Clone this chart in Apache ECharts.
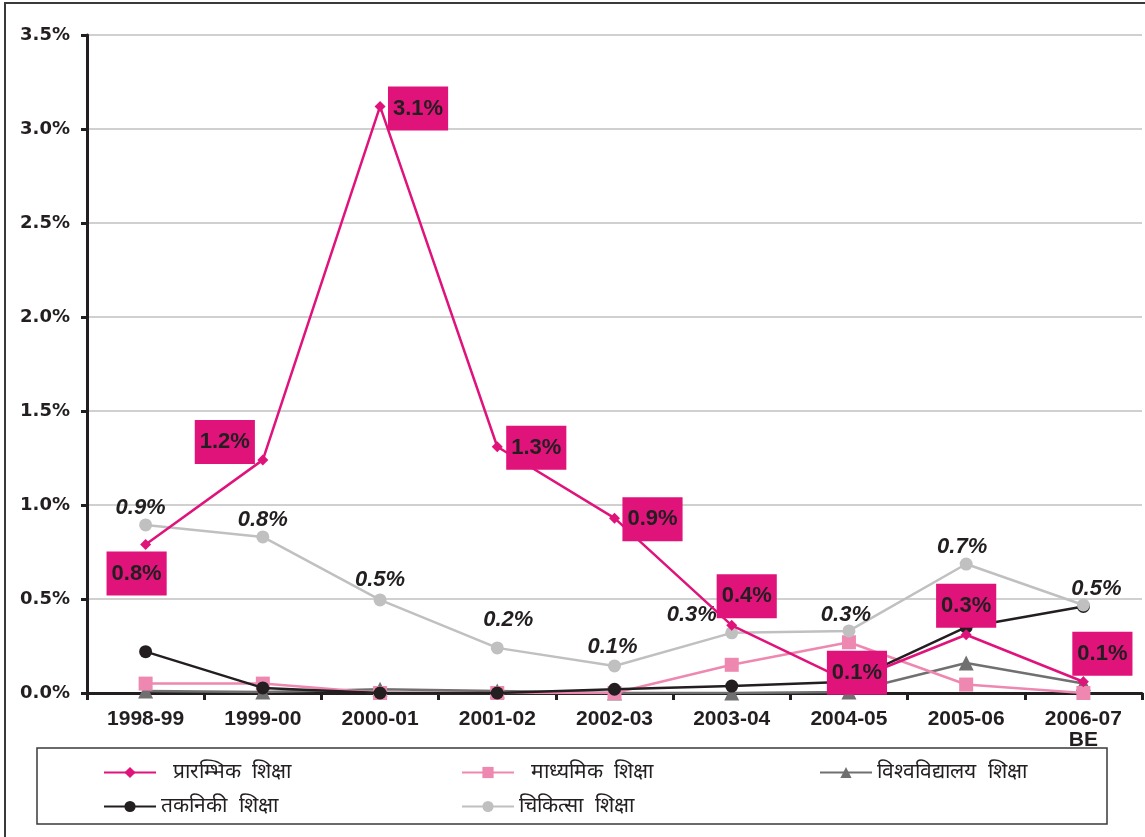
<!DOCTYPE html>
<html>
<head>
<meta charset="utf-8">
<script src="https://cdn.jsdelivr.net/npm/echarts@6/dist/echarts.min.js"></script>
<style>
  html, body { margin: 0; padding: 0; background: #fff; }
  #chart { width: 1145px; height: 837px; }
</style>
</head>
<body>
<div id="chart"></div>
<script>
// fiscal years
const categories = ['1998-99', '1999-00', '2000-01', '2001-02', '2002-03', '2003-04', '2004-05', '2005-06', '2006-07\nBE']

// shares in percent
const primaryEdu = [0.79, 1.24, 3.12, 1.31, 0.93, 0.36, 0.06, 0.31, 0.06]
const secondaryEdu = [0.05, 0.05, 0.0, 0.0, 0.0, 0.15, 0.27, 0.045, 0.0]
const universityEdu = [0.01, 0.005, 0.02, 0.01, 0.0, 0.0, 0.005, 0.16, 0.05]
const technicalEdu = [0.22, 0.027, 0.0, 0.0, 0.02, 0.037, 0.06, 0.35, 0.46]
const medicalEdu = [0.894, 0.83, 0.495, 0.24, 0.144, 0.32, 0.33, 0.686, 0.468]

const seriesNames = ['प्रारम्भिक  शिक्षा', 'माध्यमिक  शिक्षा', 'विश्वविद्यालय  शिक्षा', 'तकनिकी  शिक्षा', 'चिकित्सा  शिक्षा']

// label offsets (px) for the boxed magenta labels and the italic grey ones
const primaryOffsets = [[-9, 29], [-38, -18], [38, 2], [39, 1], [38, 1], [15, -29], [8, -9], [0, -29], [19, -28]]
const medicalOffsets = [[-5, -17], [0, -17], [0, -20], [11, -28], [-2, -19], [-40, -18], [-3, -16], [-4, -17], [13, -16]]

const FONT = 'Arial, "Liberation Sans", sans-serif'
const TEXT = '#231f20'

const pct = p => p.value.toFixed(1) + '%'

// the first row of the legend sits a little further right in the original
const legendText = name => (name === seriesNames[0] || name === seriesNames[1] ? '  ' : '') + name

const legendBase = {
  orient: 'vertical',
  top: 757,
  itemGap: 13,
  itemWidth: 52,
  itemHeight: 14,
  formatter: legendText,
  textStyle: { fontFamily: FONT, fontSize: 21, color: TEXT },
}

const chart = echarts.init(document.getElementById('chart'), null, { renderer: 'canvas' })

chart.setOption({
  backgroundColor: '#fff',
  animation: false,
  graphic: [
    {
      type: 'rect',
      shape: { x: 5, y: 3, width: 1160, height: 860 },
      style: { fill: 'none', stroke: '#3a3a3a', lineWidth: 2 },
      silent: true,
      z: -10,
    },
    {
      type: 'rect',
      shape: { x: 37, y: 748, width: 1070, height: 76 },
      style: { fill: 'none', stroke: '#3a3a3a', lineWidth: 1.5 },
      silent: true,
    },
  ],
  grid: { left: 87, right: 3, top: 35, bottom: 144, containLabel: false },
  legend: [
    { ...legendBase, data: [seriesNames[0], seriesNames[3]], left: 98 },
    { ...legendBase, data: [seriesNames[1], seriesNames[4]], left: 456 },
    { ...legendBase, data: [seriesNames[2]], left: 814 },
  ],
  xAxis: {
    type: 'category',
    data: categories,
    boundaryGap: true,
    axisLine: { lineStyle: { color: TEXT, width: 3 } },
    axisTick: { show: true, length: 7, lineStyle: { color: TEXT, width: 3 } },
    axisLabel: {
      margin: 16, color: TEXT, fontFamily: FONT, fontSize: 21, fontWeight: 'bold', lineHeight: 21,
    },
  },
  yAxis: {
    type: 'value',
    min: 0,
    max: 3.5,
    interval: 0.5,
    axisLine: { show: true, lineStyle: { color: TEXT, width: 3 } },
    axisTick: { show: true, length: 6, lineStyle: { color: TEXT, width: 3 } },
    splitLine: { lineStyle: { color: '#c0c0c0', width: 1.5 } },
    axisLabel: {
      margin: 17, color: TEXT, fontFamily: '"DejaVu Sans", sans-serif', fontSize: 18, fontWeight: 'bold',
      formatter: v => v.toFixed(1) + '%',
    },
  },
  series: [
    {
      name: seriesNames[0],
      type: 'line',
      data: primaryEdu.map((v, i) => ({ value: v, label: { offset: primaryOffsets[i] } })),
      symbol: 'diamond', symbolSize: 11,
      lineStyle: { color: '#e0137b', width: 2.5 },
      itemStyle: { color: '#e0137b' },
      z: 5,
      label: {
        show: true, position: 'inside', formatter: pct,
        backgroundColor: '#e0137b', color: TEXT, padding: [11, 5], lineHeight: 22,
        fontFamily: FONT, fontSize: 22, fontWeight: 'bold',
      },
    },
    {
      name: seriesNames[1],
      type: 'line',
      data: secondaryEdu,
      symbol: 'rect', symbolSize: 14,
      lineStyle: { color: '#ee88b0', width: 2.5 },
      itemStyle: { color: '#ee88b0' },
      z: 2,
    },
    {
      name: seriesNames[2],
      type: 'line',
      data: universityEdu,
      symbol: 'triangle', symbolSize: 15,
      lineStyle: { color: '#707070', width: 2.5 },
      itemStyle: { color: '#707070' },
      z: 1,
    },
    {
      name: seriesNames[3],
      type: 'line',
      data: technicalEdu,
      symbol: 'circle', symbolSize: 13,
      lineStyle: { color: TEXT, width: 2.5 },
      itemStyle: { color: TEXT },
      z: 3,
    },
    {
      name: seriesNames[4],
      type: 'line',
      data: medicalEdu.map((v, i) => ({ value: v, label: { offset: medicalOffsets[i] } })),
      symbol: 'circle', symbolSize: 13,
      lineStyle: { color: '#c0c0c0', width: 2.5 },
      itemStyle: { color: '#c0c0c0' },
      z: 4,
      label: {
        show: true, position: 'inside', formatter: pct,
        color: TEXT, fontFamily: FONT, fontSize: 22, fontWeight: 'bold', fontStyle: 'italic',
      },
    },
  ],
})
</script>
</body>
</html>
